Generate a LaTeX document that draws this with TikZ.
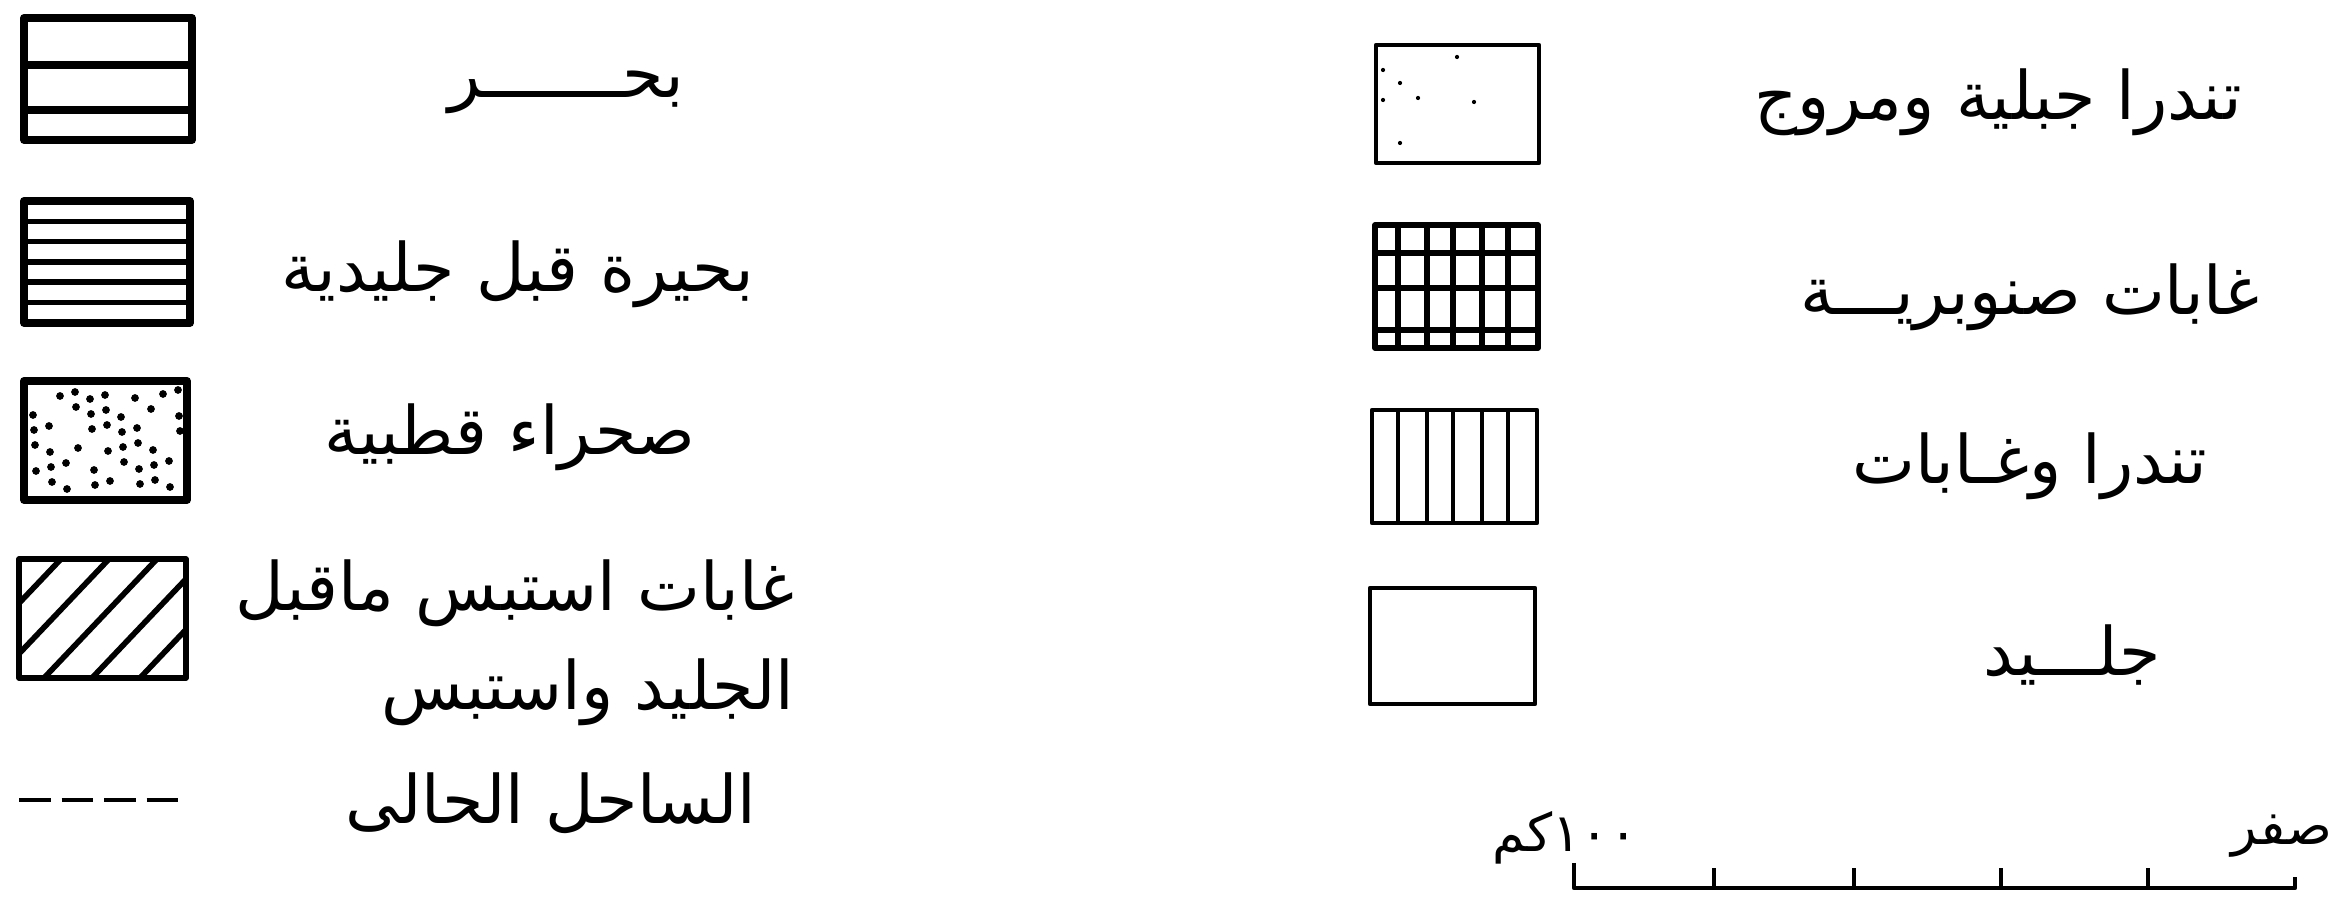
\documentclass[tikz,border=0pt]{standalone}
\usepackage{fontspec}
\newfontfamily\arabicfont[Script=Arabic]{DejaVu Sans}
\TeXXeTstate=1
\tikzset{
  lbl/.style={font=\arabicfont\fontsize{19}{24}\selectfont, inner sep=0pt},
  smalllbl/.style={font=\arabicfont\fontsize{15}{18}\selectfont, inner sep=0pt},
  heavy/.style={line width=2.2pt, line join=round},
  medline/.style={line width=1.6pt, line join=round},
  thinline/.style={line width=1.2pt, line join=round},
  coast/.style={line width=1.4pt, dash pattern=on 9pt off 3.1pt},
  dotmark/.style={fill=black}
}
\begin{document}
\begin{tikzpicture}[x=0.01cm,y=-0.01cm]
\useasboundingbox[fill=white] (0,0) rectangle (2348,913);
% ---------- left column ----------
% sea
\draw[heavy] (24,18) rectangle (192,140);
\draw[heavy] (24,65) -- (192,65) (24,110) -- (192,110);
% pre-glacial lake
\draw[heavy] (24,201) rectangle (190,323);
\foreach \i in {1,...,5}
  \draw[medline] (24,{201+\i*20.33}) -- (190,{201+\i*20.33});
% polar desert
\draw[heavy] (24,381) rectangle (187,500);
\foreach \i in {0,...,8}{
  \foreach \j in {0,...,5}{
    \pgfmathsetmacro\keep{mod(\i*7+\j*3,5)}
    \ifdim\keep pt>0pt
      \pgfmathsetmacro\dx{38+\i*17+mod(\i*37+\j*53,13)-6}
      \pgfmathsetmacro\dy{394+\j*18+mod(\i*29+\j*41,11)-5}
      \fill[dotmark] (\dx,\dy) circle[radius=1.1pt];
    \fi
  }
}
% forest steppe (hatched)
\begin{scope}
  \clip (19,559) rectangle (186,678);
  \foreach \c in {-52,-4,44,92,140}
    \draw[medline] ({\c-19},698) -- ({\c+132},539);
\end{scope}
\draw[medline] (19,559) rectangle (186,678);
% present coast
\draw[coast] (19,800) -- (180,800);
% left labels
\node[lbl] (sea) at (566,92) {\beginR بحـــــــر\endR};
\node[lbl] (lake) at (518,274) {\beginR بحيرة قبل جليدية\endR};
\node[lbl] (desert) at (510,437) {\beginR صحراء قطبية\endR};
\node[lbl, align=right, anchor=east] (steppe) at (795,643)
  {\beginR غابات استبس ماقبل\endR\\[4pt]\beginR الجليد واستبس\endR};
\node[lbl] (coastlbl) at (551,803) {\beginR الساحل الحالى\endR};
% ---------- right column ----------
% mountain tundra and meadows
\draw[thinline] (1376,45) rectangle (1539,163);
\foreach \p in {(1457,57),(1383,70),(1400,83),(1418,98),(1474,102),(1400,143),(1383,100)}
  \fill[dotmark] \p circle[radius=0.6pt];
% coniferous forests (grid)
\draw[medline] (1375,225) rectangle (1538,348);
\foreach \x in {1398,1427,1453,1482,1508}
  \draw[medline] (\x,225) -- (\x,348);
\foreach \y in {253,288,330}
  \draw[medline] (1375,\y) -- (1538,\y);
% tundra and forests (vertical lines)
\draw[thinline] (1372,410) rectangle (1537,523);
\foreach \x in {1398,1427,1453,1482,1508}
  \draw[thinline] (\x,410) -- (\x,523);
% ice
\draw[thinline] (1370,588) rectangle (1535,704);
% right labels
\node[lbl] (tundra) at (1998,102) {\beginR تندرا جبلية ومروج\endR};
\node[lbl] (conif) at (2030,297) {\beginR غابات صنوبريـــة\endR};
\node[lbl] (tundraf) at (2030,466) {\beginR تندرا وغـابات\endR};
\node[lbl] (ice) at (2072,655) {\beginR جلـــيد\endR};
% scale bar
\coordinate (s0) at (1574,888);
\coordinate (s5) at (2295,888);
\draw[thinline] (1574,863) -- (s0) -- (s5) -- (2295,877);
\foreach \x in {1714,1854,2001,2148}
  \draw[thinline] (\x,888) -- (\x,868);
\node[smalllbl] (km) at (1565,838) {\beginR\beginL ١٠٠\endL{}كم\endR};
\node[smalllbl] (zero) at (2282,836) {\beginR صفر\endR};
\end{tikzpicture}
\end{document}
